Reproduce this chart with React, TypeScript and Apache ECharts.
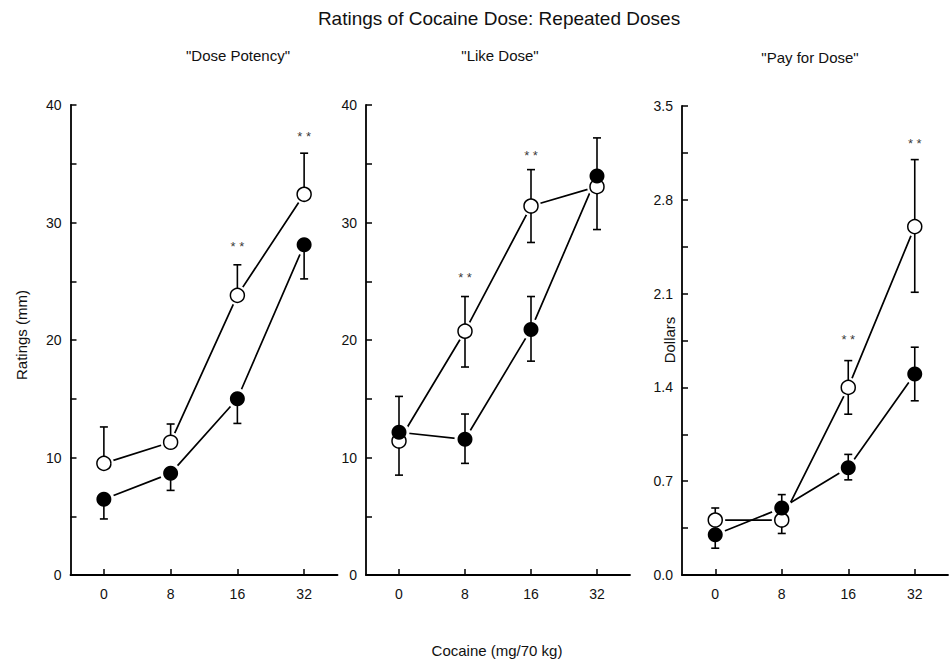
import React, { useEffect, useRef } from "react";
import * as echarts from "echarts";

const doses = ["0", "8", "16", "32"];

// Panel 1: "Dose Potency"
const potencyOpen = [9.5, 11.3, 23.8, 32.4];
const potencyOpenLow = [9.5, 11.3, 23.8, 32.4];
const potencyOpenHigh = [12.6, 12.85, 26.4, 35.9];
const potencyFilled = [6.45, 8.65, 15.0, 28.1];
const potencyFilledLow = [4.77, 7.2, 12.9, 25.2];
const potencyFilledHigh = [6.45, 8.65, 15.0, 28.1];
const potencyStars = [[2, 28.2], [3, 37.6]];

// Panel 2: "Like Dose"
const likeOpen = [11.4, 20.75, 31.4, 33.05];
const likeOpenLow = [8.5, 17.7, 28.3, 29.4];
const likeOpenHigh = [11.4, 23.7, 34.5, 33.05];
const likeFilled = [12.15, 11.55, 20.9, 33.95];
const likeFilledLow = [12.15, 9.5, 18.2, 33.95];
const likeFilledHigh = [15.2, 13.7, 23.7, 37.2];
const likeStars = [[1, 25.6], [2, 36.0]];

// Panel 3: "Pay for Dose"
const payOpen = [0.41, 0.41, 1.4, 2.6];
const payOpenLow = [0.41, 0.31, 1.2, 2.11];
const payOpenHigh = [0.5, 0.41, 1.6, 3.1];
const payFilled = [0.3, 0.5, 0.8, 1.5];
const payFilledLow = [0.2, 0.5, 0.71, 1.3];
const payFilledHigh = [0.3, 0.6, 0.9, 1.7];
const payStars = [[2, 1.78], [3, 3.24]];

const FONT = "'Liberation Sans', Arial, Helvetica, sans-serif";

function errRender(params: any, api: any) {
  const x = api.value(0);
  const v = api.value(1);
  const lo = api.value(2);
  const hi = api.value(3);
  const pv = api.coord([x, v]);
  const pl = api.coord([x, lo]);
  const ph = api.coord([x, hi]);
  const cap = 4;
  const style = { stroke: "#000", lineWidth: 1.6 };
  const children: any[] = [];
  if (hi > v) {
    children.push({ type: "line", shape: { x1: pv[0], y1: pv[1], x2: ph[0], y2: ph[1] }, style });
    children.push({ type: "line", shape: { x1: ph[0] - cap, y1: ph[1], x2: ph[0] + cap, y2: ph[1] }, style });
  }
  if (lo < v) {
    children.push({ type: "line", shape: { x1: pv[0], y1: pv[1], x2: pl[0], y2: pl[1] }, style });
    children.push({ type: "line", shape: { x1: pl[0] - cap, y1: pl[1], x2: pl[0] + cap, y2: pl[1] }, style });
  }
  return { type: "group", children };
}

function panelSeries(idx: number, open: number[], oLo: number[], oHi: number[], filled: number[], fLo: number[], fHi: number[], stars: number[][]) {
  const ax = { xAxisIndex: idx, yAxisIndex: idx };
  const pts = (arr: number[]) => arr.map((v, i) => [i, v]);
  const errs = (arr: number[], lo: number[], hi: number[]) => arr.map((v, i) => [i, v, lo[i], hi[i]]);
  return [
    { type: "line", ...ax, data: pts(open), showSymbol: false, lineStyle: { color: "#000", width: 1.7 }, z: 1, silent: true },
    { type: "line", ...ax, data: pts(filled), showSymbol: false, lineStyle: { color: "#000", width: 1.7 }, z: 1, silent: true },
    { type: "scatter", ...ax, data: pts(open), symbolSize: 20, itemStyle: { color: "#fff", opacity: 1 }, z: 2, silent: true },
    { type: "scatter", ...ax, data: pts(filled), symbolSize: 21, itemStyle: { color: "#fff", opacity: 1 }, z: 2, silent: true },
    { type: "custom", ...ax, data: errs(open, oLo, oHi), renderItem: errRender, encode: { x: 0, y: 1 }, z: 3, silent: true },
    { type: "custom", ...ax, data: errs(filled, fLo, fHi), renderItem: errRender, encode: { x: 0, y: 1 }, z: 3, silent: true },
    { type: "scatter", ...ax, data: pts(open), symbolSize: 14, itemStyle: { color: "#fff", borderColor: "#000", borderWidth: 1.5, opacity: 1 }, z: 4, silent: true },
    { type: "scatter", ...ax, data: pts(filled), symbolSize: 15, itemStyle: { color: "#000", opacity: 1 }, z: 5, silent: true },
    {
      type: "scatter", ...ax, data: stars, symbolSize: 0, z: 6, silent: true,
      label: { show: true, position: "inside", formatter: "* *", color: "#000", fontSize: 13, fontFamily: FONT, offset: [0, 3] },
    },
  ];
}

const axisCommon = {
  axisLine: { show: true, lineStyle: { color: "#000", width: 1.8 } },
  axisTick: { show: true, inside: true, length: 6, lineStyle: { color: "#000", width: 1.5 } },
  splitLine: { show: false },
};

function xAxis(idx: number) {
  return {
    type: "category", gridIndex: idx, data: doses, boundaryGap: true,
    ...axisCommon,
    axisTick: { ...axisCommon.axisTick, alignWithLabel: true },
    axisLabel: { color: "#111", fontSize: 14, fontFamily: FONT, margin: 12 },
  };
}

function yAxisRatings(idx: number) {
  return {
    type: "value", gridIndex: idx, min: 0, max: 40, interval: 5,
    ...axisCommon,
    axisLabel: {
      color: "#111", fontSize: 14, fontFamily: FONT, margin: 9,
      formatter: (v: number) => (Math.round(v) % 10 === 0 ? String(Math.round(v)) : ""),
    },
  };
}

export default function App() {
  const ref = useRef<HTMLDivElement>(null);
  useEffect(() => {
    if (!ref.current) return;
    const chart = echarts.init(ref.current, null, { renderer: "svg" });
    const textStyle = (text: string, size: number) => ({ text, fontSize: size, fontFamily: FONT, fill: "#111", textAlign: "center", textVerticalAlign: "middle" });
    chart.setOption({
      animation: false,
      backgroundColor: "#fff",
      grid: [
        { left: 70.5, top: 105, width: 267, height: 470 },
        { left: 366, top: 105, width: 264, height: 470 },
        { left: 682, top: 106, width: 266, height: 469 },
      ],
      xAxis: [xAxis(0), xAxis(1), xAxis(2)],
      yAxis: [
        yAxisRatings(0),
        yAxisRatings(1),
        {
          type: "value", gridIndex: 2, min: 0, max: 3.5, interval: 0.35,
          ...axisCommon,
          axisLabel: {
            color: "#111", fontSize: 14, fontFamily: FONT, margin: 9,
            formatter: (v: number) => {
              const k = Math.round(v / 0.35);
              return k % 2 === 0 ? (k * 0.35).toFixed(1) : "";
            },
          },
        },
      ],
      graphic: [
        { type: "text", x: 499, y: 18, style: textStyle("Ratings of Cocaine Dose: Repeated Doses", 19) },
        { type: "text", x: 238, y: 55, style: textStyle('"Dose Potency"', 15) },
        { type: "text", x: 500, y: 55, style: textStyle('"Like Dose"', 15) },
        { type: "text", x: 810, y: 57, style: textStyle('"Pay for Dose"', 15) },
        { type: "text", x: 497, y: 650, style: textStyle("Cocaine (mg/70 kg)", 15) },
        { type: "text", x: 21, y: 335, rotation: Math.PI / 2, style: textStyle("Ratings (mm)", 15) },
        { type: "text", x: 669, y: 340, rotation: Math.PI / 2, style: textStyle("Dollars", 15) },
      ],
      series: [
        ...panelSeries(0, potencyOpen, potencyOpenLow, potencyOpenHigh, potencyFilled, potencyFilledLow, potencyFilledHigh, potencyStars),
        ...panelSeries(1, likeOpen, likeOpenLow, likeOpenHigh, likeFilled, likeFilledLow, likeFilledHigh, likeStars),
        ...panelSeries(2, payOpen, payOpenLow, payOpenHigh, payFilled, payFilledLow, payFilledHigh, payStars),
      ],
    });
    return () => chart.dispose();
  }, []);
  return <div ref={ref} style={{ width: 951, height: 663, position: "absolute", left: 0, top: 0 }} />;
}
